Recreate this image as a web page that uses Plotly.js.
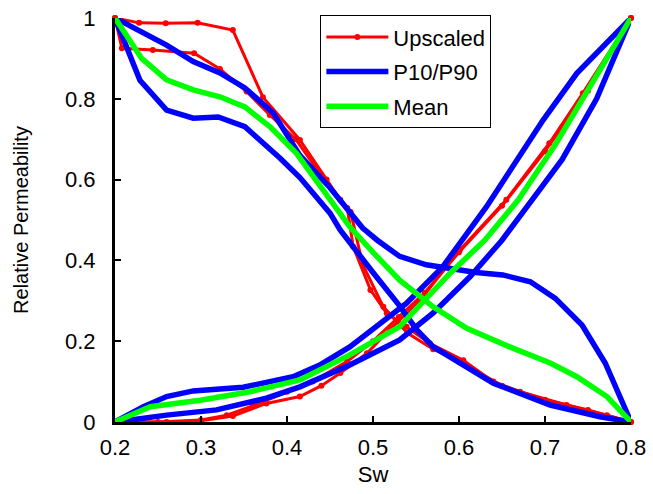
<!DOCTYPE html>
<html>
<head>
<meta charset="utf-8">
<script src="https://cdn.plot.ly/plotly-3.0.1.min.js"></script>
<style>html,body{margin:0;padding:0;background:#fff;}#chart{width:653px;height:494px;}</style>
</head>
<body>
<div id="chart"></div>
<script>
// Upscaled (red) - oil curves
const swUpOil1 = [0.2, 0.228, 0.259, 0.296, 0.337, 0.372, 0.415, 0.446, 0.462, 0.474, 0.488, 0.512, 0.54, 0.57, 0.6, 0.65, 0.7, 0.75, 0.8];
const krUpOil1 = [1.0, 0.988, 0.987, 0.988, 0.97, 0.804, 0.698, 0.60, 0.55, 0.52, 0.39, 0.285, 0.22, 0.18, 0.15, 0.09, 0.055, 0.03, 0.0];
const swUpOil2 = [0.2, 0.208, 0.244, 0.292, 0.322, 0.353, 0.38, 0.41, 0.44, 0.47, 0.477, 0.497, 0.516, 0.539, 0.566, 0.605, 0.64, 0.671, 0.725, 0.772, 0.8];
const krUpOil2 = [1.0, 0.925, 0.921, 0.913, 0.874, 0.818, 0.76, 0.70, 0.61, 0.53, 0.434, 0.327, 0.269, 0.236, 0.195, 0.153, 0.10, 0.075, 0.042, 0.017, 0.0];
// Upscaled (red) - water curves
const swUpWat1 = [0.2, 0.23, 0.26, 0.3, 0.337, 0.376, 0.415, 0.44, 0.462, 0.493, 0.52, 0.555, 0.601, 0.655, 0.705, 0.744, 0.8];
const krUpWat1 = [0.0, 0.0, 0.0, 0.003, 0.015, 0.046, 0.063, 0.09, 0.121, 0.17, 0.23, 0.302, 0.426, 0.55, 0.69, 0.814, 1.0];
const swUpWat2 = [0.2, 0.25, 0.3, 0.33, 0.36, 0.4, 0.43, 0.47, 0.5, 0.53, 0.56, 0.6, 0.65, 0.7, 0.75, 0.8];
const krUpWat2 = [0.0, 0.0, 0.005, 0.017, 0.04, 0.075, 0.1, 0.15, 0.2, 0.26, 0.32, 0.42, 0.535, 0.67, 0.82, 1.0];
// P10/P90 (blue) - oil curves
const swPOil1 = [0.2, 0.26, 0.291, 0.322, 0.351, 0.384, 0.415, 0.45, 0.488, 0.505, 0.531, 0.562, 0.62, 0.651, 0.683, 0.712, 0.743, 0.77, 0.8];
const krPOil1 = [1.0, 0.933, 0.892, 0.864, 0.827, 0.765, 0.66, 0.58, 0.48, 0.45, 0.41, 0.389, 0.37, 0.364, 0.347, 0.306, 0.24, 0.146, 0.0];
const swPOil2 = [0.2, 0.229, 0.26, 0.291, 0.32, 0.351, 0.392, 0.415, 0.45, 0.462, 0.5, 0.53, 0.551, 0.57, 0.64, 0.706, 0.764, 0.8];
const krPOil2 = [1.0, 0.846, 0.772, 0.752, 0.755, 0.731, 0.653, 0.605, 0.517, 0.475, 0.37, 0.29, 0.228, 0.186, 0.096, 0.042, 0.013, 0.0];
// P10/P90 (blue) - water curves
const swPWat1 = [0.2, 0.233, 0.26, 0.291, 0.349, 0.407, 0.438, 0.473, 0.539, 0.581, 0.632, 0.667, 0.698, 0.737, 0.772, 0.8];
const krPWat1 = [0.0, 0.038, 0.063, 0.077, 0.086, 0.112, 0.141, 0.186, 0.294, 0.384, 0.533, 0.649, 0.748, 0.863, 0.937, 1.0];
const swPWat2 = [0.2, 0.26, 0.318, 0.376, 0.415, 0.473, 0.531, 0.57, 0.613, 0.65, 0.685, 0.72, 0.76, 0.787, 0.8];
const krPWat2 = [0.0, 0.017, 0.03, 0.059, 0.087, 0.141, 0.203, 0.27, 0.36, 0.45, 0.55, 0.65, 0.80, 0.93, 1.0];
// Mean (green)
const swMeanOil = [0.2, 0.231, 0.26, 0.291, 0.322, 0.351, 0.38, 0.411, 0.44, 0.473, 0.5, 0.531, 0.57, 0.609, 0.659, 0.706, 0.737, 0.772, 0.8];
const krMeanOil = [1.0, 0.90, 0.847, 0.822, 0.805, 0.78, 0.731, 0.665, 0.58, 0.483, 0.42, 0.351, 0.285, 0.232, 0.186, 0.146, 0.112, 0.063, 0.0];
const swMeanWat = [0.2, 0.241, 0.299, 0.357, 0.415, 0.473, 0.531, 0.59, 0.63, 0.669, 0.713, 0.752, 0.783, 0.8];
const krMeanWat = [0.0, 0.038, 0.054, 0.075, 0.104, 0.166, 0.236, 0.369, 0.45, 0.55, 0.69, 0.83, 0.937, 1.0];

const xTicks = [0.2, 0.3, 0.4, 0.5, 0.6, 0.7, 0.8];
const yTicks = [0, 0.2, 0.4, 0.6, 0.8, 1];
const seriesNames = ['Upscaled', 'P10/P90', 'Mean'];

const RED = '#ff0000', BLUE = '#0000ff', GREEN = '#00ff00';

function redTrace(x, y, show) {
  return {x: x, y: y, type: 'scatter', mode: 'lines+markers', name: seriesNames[0],
    legendgroup: 'up', showlegend: show, cliponaxis: false,
    line: {color: RED, width: 3}, marker: {color: RED, size: 6}};
}
function lineTrace(x, y, color, name, grp, show) {
  return {x: x, y: y, type: 'scatter', mode: 'lines', name: name,
    legendgroup: grp, showlegend: show, cliponaxis: false,
    line: {color: color, width: 5.5}};
}

const data = [
  redTrace(swUpOil1, krUpOil1, true),
  redTrace(swUpOil2, krUpOil2, false),
  redTrace(swUpWat1, krUpWat1, false),
  redTrace(swUpWat2, krUpWat2, false),
  lineTrace(swPOil1, krPOil1, BLUE, seriesNames[1], 'p', true),
  lineTrace(swPOil2, krPOil2, BLUE, seriesNames[1], 'p', false),
  lineTrace(swPWat1, krPWat1, BLUE, seriesNames[1], 'p', false),
  lineTrace(swPWat2, krPWat2, BLUE, seriesNames[1], 'p', false),
  lineTrace(swMeanOil, krMeanOil, GREEN, seriesNames[2], 'm', true),
  lineTrace(swMeanWat, krMeanWat, GREEN, seriesNames[2], 'm', false)
];

const FONT = 'Liberation Sans, Arial, sans-serif';
const FS = 22;
const layout = {
  width: 653, height: 494,
  margin: {l: 115, r: 22, t: 18, b: 72},
  paper_bgcolor: '#fff', plot_bgcolor: '#fff',
  font: {family: FONT, size: FS, color: '#000'},
  showlegend: true,
  legend: {
    x: 0.398, y: 1.007, xanchor: 'left', yanchor: 'top',
    bgcolor: '#fff', bordercolor: '#000', borderwidth: 1,
    font: {family: FONT, size: FS, color: '#000'},
    traceorder: 'grouped', tracegroupgap: 3, itemwidth: 62
  },
  xaxis: {
    range: [0.2, 0.8], tickvals: xTicks, ticktext: xTicks.map(String),
    ticks: 'inside', ticklen: 6, tickwidth: 2, tickcolor: '#000',
    showline: true, linecolor: '#000', linewidth: 3,
    showgrid: false, zeroline: false, ticklabelstandoff: 4,
    tickfont: {family: FONT, size: FS, color: '#000'},
    title: {text: 'Sw', font: {family: FONT, size: FS, color: '#000'}, standoff: 8}
  },
  yaxis: {
    range: [0, 1], tickvals: yTicks, ticktext: yTicks.map(String),
    ticks: 'inside', ticklen: 6, tickwidth: 2, tickcolor: '#000',
    showline: true, linecolor: '#000', linewidth: 3,
    showgrid: false, zeroline: false, ticklabelstandoff: 12,
    tickfont: {family: FONT, size: FS, color: '#000'},
    title: {text: 'Relative Permeability', font: {family: FONT, size: 20, color: '#000'}, standoff: 32}
  }
};

Plotly.newPlot('chart', data, layout, {displayModeBar: false, staticPlot: true});
</script>
</body>
</html>
